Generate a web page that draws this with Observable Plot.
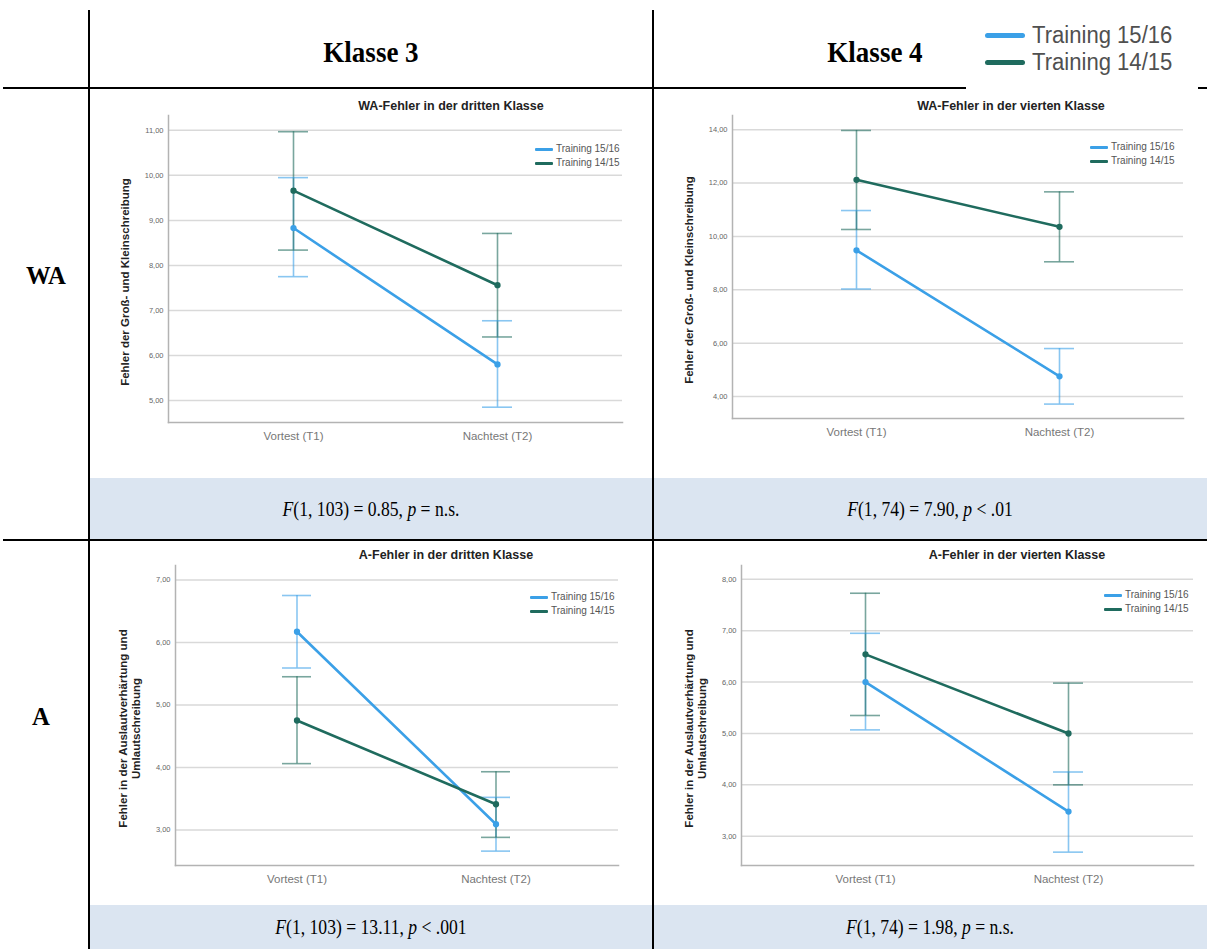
<!DOCTYPE html>
<html><head><meta charset="utf-8">
<script src="https://cdn.jsdelivr.net/npm/d3@7"></script>
<script src="https://cdn.jsdelivr.net/npm/@observablehq/plot@0.6"></script>
<style>
html,body{margin:0;padding:0;background:#fff;}
body{width:1207px;height:949px;overflow:hidden;position:relative;font-family:"Liberation Sans",Arial,sans-serif;}
.abs{position:absolute;}
.line{position:absolute;background:#000;}
.statbg{position:absolute;background:#dbe5f1;}
.hdr{position:absolute;font-family:"Liberation Serif","Times New Roman",serif;font-weight:bold;color:#000;white-space:nowrap;}
.stat{position:absolute;font-family:"Liberation Serif","Times New Roman",serif;color:#000;white-space:nowrap;font-size:22px;}
.ctitle{position:absolute;font-weight:bold;font-size:12.5px;color:#222;transform:translate(-50%,-50%);white-space:nowrap;}
.leg{position:absolute;font-size:10px;color:#555;white-space:nowrap;}
.leg .sw{position:absolute;height:3px;border-radius:1px;}
.hleg .sw{position:absolute;height:5px;border-radius:3px;}
.hleg{position:absolute;font-size:23px;color:#505050;white-space:nowrap;}
.hleg span{display:inline-block;transform:scaleX(0.96);transform-origin:left center;}
.chart{position:absolute;}
</style></head><body>
<script>
// ---------- data ----------
const timepoints = ["Vortest (T1)", "Nachtest (T2)"];
const groups = ["Training 15/16", "Training 14/15"];
const classHeaders = ["Klasse 3", "Klasse 4"];
const rowLabels = ["WA", "A"];
const chartTitles = [
  "WA-Fehler in der dritten Klasse",
  "WA-Fehler in der vierten Klasse",
  "A-Fehler in der dritten Klasse",
  "A-Fehler in der vierten Klasse"
];
const yAxisTitles = [
  "Fehler der Groß- und Kleinschreibung",
  "Fehler der Groß- und Kleinschreibung",
  "Fehler in der Auslautverhärtung und\nUmlautschreibung",
  "Fehler in der Auslautverhärtung und\nUmlautschreibung"
];
const statTexts = [
  "F(1, 103) = 0.85, p = n.s.",
  "F(1, 74) = 7.90, p < .01",
  "F(1, 103) = 13.11, p < .001",
  "F(1, 74) = 1.98, p = n.s."
];

// WA, Klasse 3
const wa3Mean1516 = [8.83, 5.80];
const wa3Low1516  = [7.75, 4.85];
const wa3High1516 = [9.95, 6.77];
const wa3Mean1415 = [9.66, 7.56];
const wa3Low1415  = [8.34, 6.41];
const wa3High1415 = [10.97, 8.71];
const wa3Ticks = [5, 6, 7, 8, 9, 10, 11];

// WA, Klasse 4
const wa4Mean1516 = [9.48, 4.76];
const wa4Low1516  = [8.03, 3.72];
const wa4High1516 = [10.97, 5.80];
const wa4Mean1415 = [12.12, 10.36];
const wa4Low1415  = [10.26, 9.05];
const wa4High1415 = [13.97, 11.67];
const wa4Ticks = [4, 6, 8, 10, 12, 14];

// A, Klasse 3
const a3Mean1516 = [6.17, 3.09];
const a3Low1516  = [5.59, 2.66];
const a3High1516 = [6.75, 3.52];
const a3Mean1415 = [4.75, 3.41];
const a3Low1415  = [4.06, 2.88];
const a3High1415 = [5.45, 3.93];
const a3Ticks = [3, 4, 5, 6, 7];

// A, Klasse 4
const a4Mean1516 = [6.00, 3.48];
const a4Low1516  = [5.07, 2.69];
const a4High1516 = [6.95, 4.25];
const a4Mean1415 = [6.54, 5.00];
const a4Low1415  = [5.35, 4.00];
const a4High1415 = [7.73, 5.98];
const a4Ticks = [3, 4, 5, 6, 7, 8];

// ---------- styles ----------
const groupColors = ["#3ba0e7", "#1f6b5e"];

function el(cls, css, html) {
  const d = document.createElement("div");
  d.className = cls;
  Object.assign(d.style, css);
  if (html != null) d.innerHTML = html;
  document.body.appendChild(d);
  return d;
}

// table backgrounds
el("statbg", {left: "90px", top: "478px", width: "1117px", height: "61px"});
el("statbg", {left: "90px", top: "905px", width: "1117px", height: "44px"});

// table lines
el("line", {left: "88px", top: "10px", width: "1.6px", height: "939px"});
el("line", {left: "652px", top: "10px", width: "1.6px", height: "939px"});
el("line", {left: "3px", top: "87px", width: "1204px", height: "2px"});
el("line", {left: "3px", top: "539px", width: "1204px", height: "2px"});

// header texts (centered; slightly condensed like the reference)
function centered(cls, x, y, size, sx, html) {
  return el(cls, {left: x + "px", top: y + "px", fontSize: size + "px",
    transform: `translate(-50%,-50%) scaleX(${sx})`}, html);
}
centered("hdr", 371, 52, 30, 0.9, classHeaders[0]);
centered("hdr", 875, 52, 30, 0.9, classHeaders[1]);
centered("hdr", 46, 276, 26, 0.95, rowLabels[0]);
centered("hdr", 41, 717, 26, 0.95, rowLabels[1]);

// stat texts
function statHtml(s) {
  const parts = s.split(", p ");
  return "<i>F</i>" + parts[0].slice(1).replace(/</g, "&lt;") + ", <i>p</i> " + parts[1].replace(/</g, "&lt;");
}
centered("stat", 371, 509, 22, 0.8, statHtml(statTexts[0]));
centered("stat", 930, 509, 22, 0.8, statHtml(statTexts[1]));
centered("stat", 371, 927, 22, 0.8, statHtml(statTexts[2]));
centered("stat", 930, 927, 22, 0.8, statHtml(statTexts[3]));

// header legend (white block covering the line)
el("abs", {left: "966px", top: "14px", width: "232px", height: "76px", background: "#fff"});
groups.forEach((g, i) => {
  const row = el("hleg", {left: "985px", top: (22 + i * 27) + "px", height: "26px", lineHeight: "26px"});
  const sw = document.createElement("div");
  sw.className = "sw";
  Object.assign(sw.style, {left: "0px", top: "10.5px", width: "40px", background: groupColors[i]});
  row.appendChild(sw);
  const t = document.createElement("span");
  t.style.marginLeft = "47px";
  t.textContent = g;
  row.appendChild(t);
});

// ---------- charts ----------
const panels = [
  {left: 92, top: 92, width: 554, height: 380, mL: 76, mR: 24, mT: 23, mB: 50, domain: [4.51, 11.33], ticks: wa3Ticks,
   series: [[wa3Mean1516, wa3Low1516, wa3High1516], [wa3Mean1415, wa3Low1415, wa3High1415]],
   titleX: 451, titleY: 106, legX: 535, legY: 149, ylabDx: -44},
  {left: 656, top: 92, width: 548, height: 380, mL: 76, mR: 21, mT: 23, mB: 54, domain: [3.18, 14.53], ticks: wa4Ticks,
   series: [[wa4Mean1516, wa4Low1516, wa4High1516], [wa4Mean1415, wa4Low1415, wa4High1415]],
   titleX: 1011, titleY: 106, legX: 1090, legY: 147, ylabDx: -44},
  {left: 92, top: 543, width: 554, height: 357, mL: 83, mR: 28, mT: 22, mB: 35, domain: [2.43, 7.23], ticks: a3Ticks,
   series: [[a3Mean1516, a3Low1516, a3High1516], [a3Mean1415, a3Low1415, a3High1415]],
   titleX: 446, titleY: 555, legX: 530, legY: 597, ylabDx: -46},
  {left: 656, top: 543, width: 548, height: 357, mL: 85, mR: 11, mT: 22, mB: 35, domain: [2.43, 8.27], ticks: a4Ticks,
   series: [[a4Mean1516, a4Low1516, a4High1516], [a4Mean1415, a4Low1415, a4High1415]],
   titleX: 1017, titleY: 555, legX: 1104, legY: 595, ylabDx: -46}
];

const fmt = d => d.toFixed(2).replace(".", ",");

panels.forEach((p, pi) => {
  const rows = [];
  p.series.forEach((s, gi) => timepoints.forEach((t, ti) => rows.push({
    group: groups[gi], time: t, mean: s[0][ti], lo: s[1][ti], hi: s[2][ti]
  })));
  const chart = Plot.plot({
    width: p.width, height: p.height,
    marginLeft: p.mL, marginRight: p.mR, marginTop: p.mT, marginBottom: p.mB,
    style: {background: "transparent", fontFamily: "'Liberation Sans', Arial, sans-serif", overflow: "visible"},
    x: {type: "band", domain: timepoints, paddingInner: 0.852, paddingOuter: 0.536, axis: null},
    y: {domain: p.domain, axis: null},
    color: {domain: groups, range: groupColors},
    marks: [
      Plot.gridY(p.ticks, {stroke: "#d9d9d9", strokeOpacity: 1, strokeWidth: 1.5}),
      Plot.frame({anchor: "left", stroke: "#b3b3b3", strokeWidth: 1.5}),
      Plot.frame({anchor: "bottom", stroke: "#b3b3b3", strokeWidth: 1.5}),
      Plot.ruleX(rows, {x: "time", y1: "lo", y2: "hi", stroke: "group", strokeOpacity: 0.6, strokeWidth: 1.6}),
      Plot.tickY(rows, {x: "time", y: "lo", stroke: "group", strokeOpacity: 0.6, strokeWidth: 1.6}),
      Plot.tickY(rows, {x: "time", y: "hi", stroke: "group", strokeOpacity: 0.6, strokeWidth: 1.6}),
      Plot.line(rows, {x: "time", y: "mean", z: "group", stroke: "group", strokeWidth: 2.6}),
      Plot.dot(rows, {x: "time", y: "mean", fill: "group", stroke: "group", r: 2.4}),
      Plot.axisY(p.ticks, {tickSize: 0, tickPadding: 5, tickFormat: fmt, fontSize: 7.5, color: "#666", label: null}),
      Plot.axisX({tickSize: 0, tickPadding: 9, fontSize: 11.5, color: "#777", label: null}),
      Plot.text([yAxisTitles[pi]], {frameAnchor: "left", text: d => d, rotate: -90, dx: p.ylabDx, dy: 13,
        textAnchor: "middle", lineAnchor: "middle",
        fontSize: 11.5, fontWeight: "bold", fill: "#222", lineHeight: 1.1})
    ]
  });
  chart.classList.add("chart");
  Object.assign(chart.style, {left: p.left + "px", top: p.top + "px"});
  document.body.appendChild(chart);

  el("ctitle", {left: p.titleX + "px", top: p.titleY + "px"}, chartTitles[pi]);
  groups.forEach((g, gi) => {
    const row = el("leg", {left: p.legX + "px", top: (p.legY - 7 + gi * 14) + "px", height: "14px", lineHeight: "14px"});
    const sw = document.createElement("div");
    sw.className = "sw";
    Object.assign(sw.style, {left: "0px", top: "5.5px", width: "18px", background: groupColors[gi]});
    row.appendChild(sw);
    const t = document.createElement("span");
    t.style.marginLeft = "21px";
    t.textContent = g;
    row.appendChild(t);
  });
});
</script>
</body></html>
